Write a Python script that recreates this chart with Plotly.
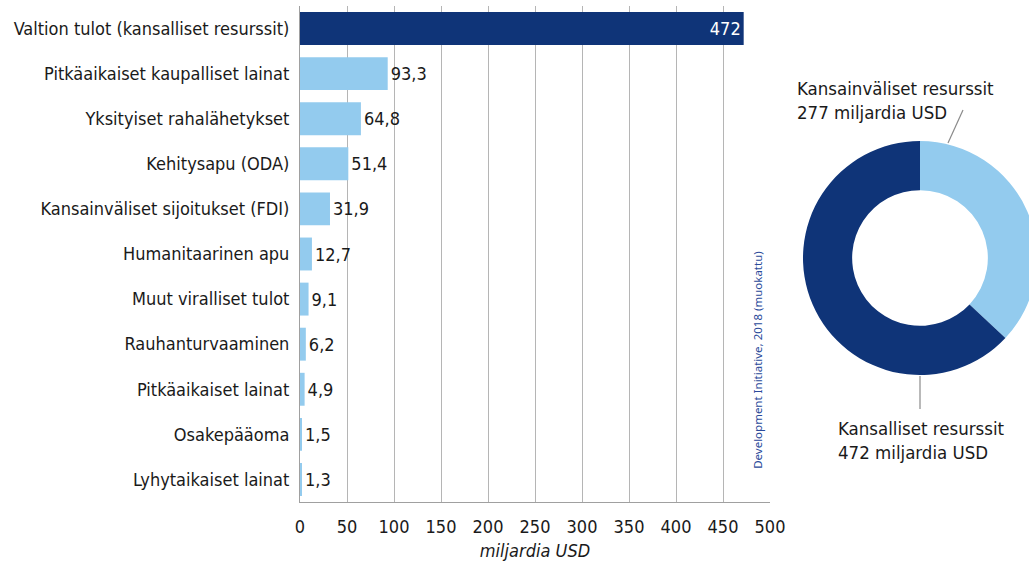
import plotly.graph_objects as go

categories = [
    "Valtion tulot (kansalliset resurssit)",
    "Pitkäaikaiset kaupalliset lainat",
    "Yksityiset rahalähetykset",
    "Kehitysapu (ODA)",
    "Kansainväliset sijoitukset (FDI)",
    "Humanitaarinen apu",
    "Muut viralliset tulot",
    "Rauhanturvaaminen",
    "Pitkäaikaiset lainat",
    "Osakepääoma",
    "Lyhytaikaiset lainat",
]
values = [472, 93.3, 64.8, 51.4, 31.9, 12.7, 9.1, 6.2, 4.9, 1.5, 1.3]

pie_labels = ["Kansainväliset resurssit", "Kansalliset resurssit"]
pie_values = [277, 472]

x_ticks = [0, 50, 100, 150, 200, 250, 300, 350, 400, 450, 500]

DARK = "#0f3478"
LIGHT = "#93cbee"
FONT = "DejaVu Sans Condensed, Liberation Sans Narrow, sans-serif"

# figure slightly wider than the 1029 px window so the donut is cut at the right edge
W, H = 1040, 567

bar_colors = [DARK] + [LIGHT] * (len(values) - 1)
text_pos = ["inside"] + ["outside"] * (len(values) - 1)
text_colors = ["white"] + ["#1a1a1a"] * (len(values) - 1)

fig = go.Figure()
fig.add_trace(go.Bar(
    x=values, y=categories, orientation="h",
    marker=dict(color=bar_colors, line=dict(width=0)),
    texttemplate="%{x}", textposition=text_pos,
    insidetextanchor="end",
    textfont=dict(color=text_colors, size=18, family=FONT),
    cliponaxis=False, width=0.73, hoverinfo="skip",
))

fig.add_trace(go.Pie(
    values=pie_values, labels=pie_labels, hole=0.58,
    sort=False, direction="clockwise", rotation=0,
    marker=dict(colors=[LIGHT, DARK], line=dict(width=0)),
    textinfo="none", showlegend=False, hoverinfo="skip",
    domain=dict(x=[803 / W, 1037 / W], y=[1 - 375 / H, 1 - 141 / H]),
))

fig.update_layout(
    width=W, height=H,
    margin=dict(l=0, r=0, t=0, b=0),
    paper_bgcolor="white", plot_bgcolor="white",
    font=dict(family=FONT, size=18, color="#1a1a1a"),
    separators=", ",
    showlegend=False,
    bargap=0.27,
    xaxis=dict(
        domain=[300 / W, 770 / W], range=[0, 500], automargin=False,
        tickvals=x_ticks, showgrid=True, gridcolor="#b5b5b5", gridwidth=1,
        showline=True, linecolor="#a0a0a0", zeroline=False,
        ticks="outside", ticklen=8, tickcolor="rgba(0,0,0,0)",
        tickfont=dict(size=18),
        title=dict(text="<i>miljardia USD</i>", font=dict(size=18), standoff=8),
    ),
    yaxis=dict(
        domain=[1 - 502 / H, 1 - 6 / H], autorange="reversed", automargin=False,
        showline=True, linecolor="#a0a0a0", showgrid=False,
        ticks="outside", ticklen=6, tickcolor="rgba(0,0,0,0)",
        tickfont=dict(size=18),
    ),
    annotations=[
        dict(text="Development Initiative, 2018 (muokattu)",
             xref="x", yref="paper", x=486, y=1 - 471 / H,
             xanchor="center", yanchor="bottom", textangle=-90,
             showarrow=False,
             font=dict(family="Noto Sans, Open Sans, sans-serif", size=11.5, color="#2a4a9a")),
        dict(text="Kansainväliset resurssit<br>277 miljardia USD",
             xref="paper", yref="paper", x=795 / W, y=1 - 76 / H,
             xanchor="left", yanchor="top", align="left", showarrow=False,
             font=dict(size=18.5)),
        dict(text="Kansalliset resurssit<br>472 miljardia USD",
             xref="paper", yref="paper", x=836 / W, y=1 - 416 / H,
             xanchor="left", yanchor="top", align="left", showarrow=False,
             font=dict(size=18.5)),
    ],
    shapes=[
        dict(type="line", xref="paper", yref="paper",
             x0=948 / W, y0=1 - 143 / H, x1=963 / W, y1=1 - 110 / H,
             line=dict(color="#8a8a8a", width=1.2)),
        dict(type="line", xref="paper", yref="paper",
             x0=920 / W, y0=1 - 376 / H, x1=920 / W, y1=1 - 409 / H,
             line=dict(color="#8a8a8a", width=1.2)),
    ],
)

fig.write_html(
    "out.html",
    config={"displayModeBar": False},
    post_script="document.body.style.margin='0';document.body.style.overflow='hidden';",
)
